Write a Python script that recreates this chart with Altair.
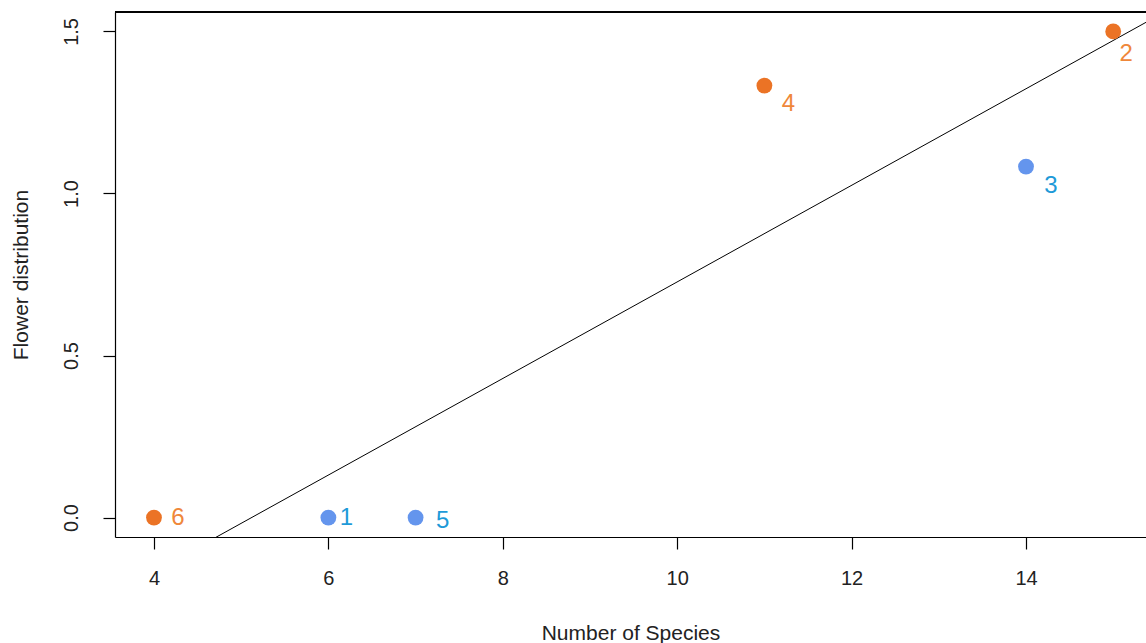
import altair as alt
import pandas as pd

# Data
point_id = ["1", "2", "3", "4", "5", "6"]
species = [6, 15, 14, 11, 7, 4]
flower = [0.0, 1.5, 1.083, 1.333, 0.0, 0.0]
group = ["blue", "orange", "blue", "orange", "blue", "orange"]
# label anchor positions (data units)
label_x = [6.206, 15.15, 14.287, 11.275, 7.31, 4.275]
label_y = [0.0, 1.429, 1.022, 1.275, -0.012, 0.0]

x_ticks = [4, 6, 8, 10, 12, 14]
y_ticks = [0.0, 0.5, 1.0, 1.5]

df = pd.DataFrame({
    "id": point_id, "species": species, "flower": flower, "group": group,
    "lx": label_x, "ly": label_y,
})

FONT = "Liberation Sans"
W, H = 1031, 525
x_dom = [3.553, 15.376]
y_dom = [-0.06, 1.56]

xscale = alt.Scale(domain=x_dom, nice=False, zero=False)
yscale = alt.Scale(domain=y_dom, nice=False, zero=False)

point_colors = alt.Scale(domain=["blue", "orange"], range=["#6495ED", "#EB7325"])
label_colors = alt.Scale(domain=["blue", "orange"], range=["#1E9AD8", "#EF873A"])

x_axis = alt.Axis(values=x_ticks, format="d", title="Number of Species", grid=False,
                  domain=True, domainColor="black", domainWidth=1.2,
                  tickColor="black", tickSize=12, tickWidth=1.2,
                  labelFontSize=20, labelFont=FONT, labelColor="#222",
                  labelPadding=19, titleFont=FONT, titleFontSize=21,
                  titleFontWeight="normal", titleColor="#222",
                  titlePadding=34)
y_axis = alt.Axis(values=y_ticks, format=".1f", title="Flower distribution",
                  grid=False, domain=True, domainColor="black", domainWidth=1.2,
                  tickColor="black", tickSize=12, tickWidth=1.2,
                  labelAngle=270, labelAlign="center", labelBaseline="bottom",
                  labelFontSize=20, labelFont=FONT, labelColor="#222",
                  labelPadding=22, titleFont=FONT, titleFontSize=21,
                  titleFontWeight="normal", titleColor="#222",
                  titlePadding=30)

base = alt.Chart(df)

points = base.mark_circle(size=250, opacity=1).encode(
    x=alt.X("species:Q", scale=xscale, axis=x_axis),
    y=alt.Y("flower:Q", scale=yscale, axis=y_axis),
    color=alt.Color("group:N", scale=point_colors, legend=None),
)

labels = base.mark_text(fontSize=24, font=FONT, align="center", baseline="middle").encode(
    x=alt.X("lx:Q", scale=xscale, axis=x_axis),
    y=alt.Y("ly:Q", scale=yscale, axis=y_axis),
    text="id:N",
    color=alt.Color("group:N", scale=label_colors, legend=None),
)

reg = base.transform_regression(
    "species", "flower", extent=x_dom
).mark_line(color="black", strokeWidth=1, clip=True).encode(
    x=alt.X("species:Q", scale=xscale, axis=x_axis),
    y=alt.Y("flower:Q", scale=yscale, axis=y_axis),
)

top_rule = alt.Chart(df).mark_rule(color="black", strokeWidth=1.2).encode(
    x=alt.value(0), x2=alt.value(W), y=alt.value(0)
)

chart = alt.layer(reg, points, labels, top_rule).resolve_scale(
    color="independent"
).properties(
    width=W, height=H,
    autosize=alt.AutoSizeParams(type="none"),
    padding={"left": 115, "top": 12, "right": 0, "bottom": 106},
    background="white",
).configure_view(stroke=None)

chart.save("out.html", embed_options={"renderer": "svg", "actions": False})
